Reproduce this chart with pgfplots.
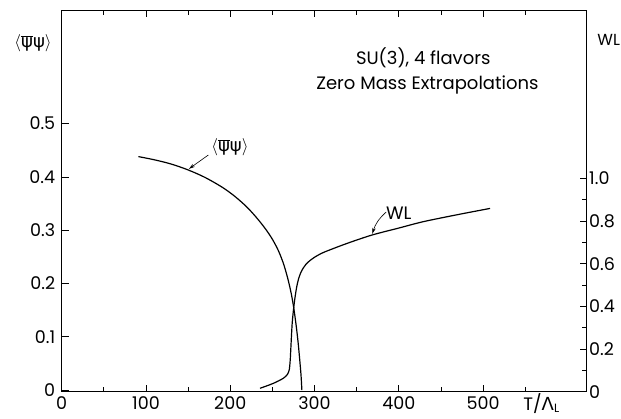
\documentclass[border=0pt]{standalone}
\usepackage{pgfplots}
\pgfplotsset{compat=1.18}
\usepackage{fontspec}
\setmainfont{Poppins}
\newfontfamily\djv{DejaVu Sans}
\usetikzlibrary{arrows.meta}
\newcommand\fs{\fontsize{18}{21}\selectfont}
\newcommand\ft{\fontsize{17.5}{20}\selectfont}
\newcommand\psib{$\langle\overline{\mbox{\djv ψ}}\mbox{\djv ψ}\rangle$}
\begin{document}
\begin{tikzpicture}
\pgfplotsset{
  common/.style={
    scale only axis, width=525pt, height=381.7pt,
    at={(0,0)}, anchor=south west,
    xmin=0, xmax=623,
    clip mode=individual,
    major tick length=7pt, minor tick length=5pt,
    tick style={black, line width=0.7pt},
    axis line style={line width=0.8pt},
    tick label style={font=\ft},
    /pgf/number format/assume math mode=true,
  }
}
\begin{axis}[common,
  ymin=-0.003, ymax=0.713,
  xtick={0,100,200,300,400,500},
  xticklabels={0,100,200,300,400,500},
  minor xtick={50,150,250,350,450,550},
  ytick={0,0.1,0.2,0.3,0.4,0.5},
  yticklabels={0,0.1,0.2,0.3,0.4,0.5},
  ytick pos=left,
  xticklabel style={yshift=-1pt},
  yticklabel style={xshift=-3pt},
]
\addplot[black, line width=1.2pt, smooth, tension=0.5] coordinates {
 (91,0.438) (110,0.432) (130,0.424) (150,0.413) (170,0.399) (190,0.381)
 (205,0.364) (220,0.343) (232,0.322) (242,0.302) (250,0.283) (257,0.262)
 (263,0.238) (268,0.211) (272,0.184) (275,0.158) (278,0.124) (280.5,0.090)
 (282.5,0.056) (284,0.028) (285,0.0)
};
\node[font=\fs] at (axis cs:199.7,0.456) {\psib};
\draw[line width=0.6pt, -{Stealth[length=6pt,width=3.5pt]}] (axis cs:174,0.441) -- (axis cs:151,0.415);
\node[font=\fs] at (axis cs:429,0.623) {SU(3), 4 flavors};
\node[font=\fs] at (axis cs:434,0.572) {Zero Mass Extrapolations};
\node[font=\fs, anchor=base west, inner sep=0pt] at ([xshift=-2pt,yshift=-18.5pt]axis cs:550,-0.003) {T/{\djv Λ}\raisebox{-2pt}{\fontsize{12}{14}\selectfont L}};
\node[font=\fs, inner sep=0pt] at ([xshift=-28.7pt]axis cs:0,0.651) {\psib};
\end{axis}
\begin{axis}[common,
  ymin=0, ymax=1.789,
  axis x line=none, axis y line*=right,
  ytick={0,0.2,0.4,0.6,0.8,1.0},
  yticklabels={0,0.2,0.4,0.6,0.8,1.0},
  minor ytick={0.1,0.3,0.5,0.7,0.9},
  yticklabel style={xshift=-1pt},
]
\addplot[black, line width=1.2pt, smooth, tension=0.5] coordinates {
 (235.3,0.016) (251.1,0.039) (263,0.063) (268,0.082) (270.1,0.105)
 (271.2,0.150) (271.8,0.195) (272.5,0.250) (273.5,0.320) (275,0.383)
 (276.8,0.440) (278.9,0.492) (281,0.528) (283.5,0.556) (286.7,0.580)
 (290,0.598) (294.7,0.615) (300,0.630) (308,0.648) (318.4,0.665)
 (340,0.697) (367.9,0.734) (400,0.767) (429.2,0.797) (470,0.830) (508.3,0.859)
};
\node[font=\fs] at (axis cs:400,0.837) {WL};
\draw[line width=0.6pt, -{Stealth[length=6pt,width=3.5pt]}] (axis cs:385,0.842) to[bend right=15] (axis cs:368.5,0.740);
\node[font=\fontsize{16}{19}\selectfont, inner sep=0pt] at ([xshift=22pt]rel axis cs:1,0.921) {WL};
\end{axis}
\pgfresetboundingbox
\path (-61.7pt,-26.3pt) rectangle (559.3pt,391.7pt);
\end{tikzpicture}
\end{document}
